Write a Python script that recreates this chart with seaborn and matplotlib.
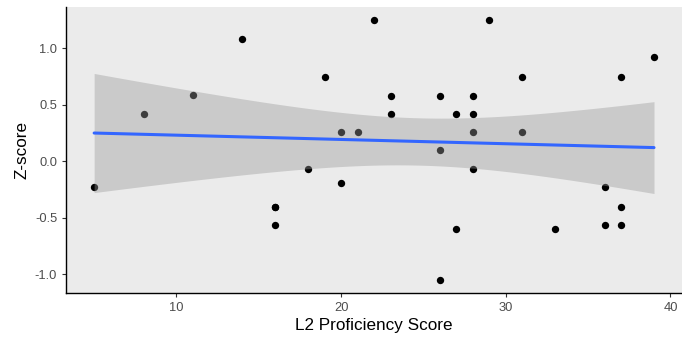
import numpy as np
import pandas as pd
import matplotlib
matplotlib.use("Agg")
import matplotlib.pyplot as plt
import seaborn as sns

# L2 proficiency score vs Z-score
# (16, -0.40) appears twice: overplotted, inferred from the fitted line
l2_score = [5, 8, 11, 14, 16, 16, 16, 18, 19, 20, 20, 21, 22, 23, 23, 26, 26, 26,
            27, 27, 28, 28, 28, 28, 29, 31, 31, 33, 36, 36, 37, 37, 37, 39]
z_score = [-0.23, 0.42, 0.59, 1.08, -0.40, -0.40, -0.56, -0.07, 0.75, 0.26, -0.19, 0.26,
           1.25, 0.58, 0.42, 0.58, 0.10, -1.05, 0.42, -0.60, 0.58, 0.42, 0.26,
           -0.07, 1.25, 0.75, 0.26, -0.60, -0.23, -0.56, 0.75, -0.40, -0.56, 0.92]

x_ticks = [10, 20, 30, 40]
y_ticks = [-1.0, -0.5, 0.0, 0.5, 1.0]

df = pd.DataFrame({"L2": l2_score, "Z": z_score})

sns.set_style("white")
plt.rcParams["font.family"] = ["Liberation Sans", "DejaVu Sans"]

fig = plt.figure(figsize=(6.82, 3.38), dpi=100)
ax = fig.add_axes([0.097, 0.133, 0.903, 0.846])
ax.set_facecolor("#EBEBEB")

sns.scatterplot(data=df, x="L2", y="Z", color="black", s=28, linewidth=0, ax=ax, zorder=2)

# linear fit with 95% confidence band (t-based, like geom_smooth(method="lm"))
x = np.array(l2_score, dtype=float)
y = np.array(z_score, dtype=float)
n = len(x)
b1, b0 = np.polyfit(x, y, 1)
resid = y - (b0 + b1 * x)
s = np.sqrt(np.sum(resid ** 2) / (n - 2))
xg = np.linspace(x.min(), x.max(), 80)
yg = b0 + b1 * xg
se = s * np.sqrt(1 / n + (xg - x.mean()) ** 2 / np.sum((x - x.mean()) ** 2))
tcrit = 2.037  # t(0.975, df=32)
ax.fill_between(xg, yg - tcrit * se, yg + tcrit * se, color="#999999", alpha=0.4,
                linewidth=0, zorder=3)
sns.lineplot(x=xg, y=yg, color="#3366FF", linewidth=2.2, ax=ax, zorder=4)

ax.set_xlim(3.3, 40.7)
ax.set_ylim(-1.165, 1.365)
ax.set_xticks(x_ticks)
ax.set_yticks(y_ticks)
ax.set_xticklabels([str(t) for t in x_ticks])
ax.set_yticklabels(["-1.0", "-0.5", "0.0", "0.5", "1.0"])
ax.tick_params(axis="both", labelsize=9.3, colors="#333333", labelcolor="#4D4D4D",
               length=3, width=0.8, direction="out", bottom=True, left=True)

for side in ["top", "right"]:
    ax.spines[side].set_visible(False)
for side in ["left", "bottom"]:
    ax.spines[side].set_color("black")
    ax.spines[side].set_linewidth(1.0)

ax.set_xlabel("L2 Proficiency Score", fontsize=12.3, color="black", labelpad=3)
ax.set_ylabel("Z-score", fontsize=12.3, color="black", labelpad=4)

fig.savefig("out.png", dpi=100)
